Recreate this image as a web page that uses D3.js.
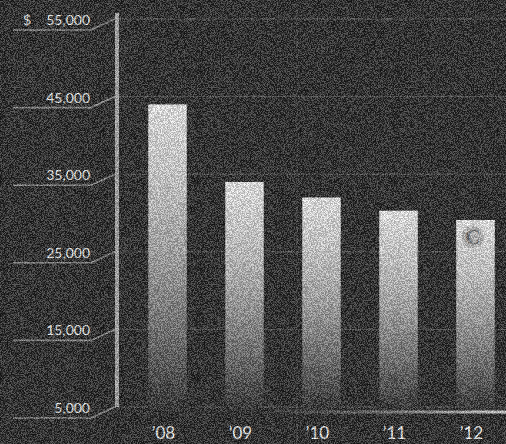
<!DOCTYPE html>
<html><head><meta charset="utf-8">
<script src="https://cdn.jsdelivr.net/npm/d3@7"></script>
<style>html,body{margin:0;padding:0;background:#2e2e2e;overflow:hidden}</style>
</head><body>
<script>
const years = ["’08", "’09", "’10", "’11", "’12"];
const values = [44000, 34000, 32000, 30300, 29100];
const tickValues = [5000, 15000, 25000, 35000, 45000, 55000];
const tickLabels = ["5,000", "15,000", "25,000", "35,000", "45,000", "55,000"];

const W = 506, H = 444;
const svg = d3.select("body").append("svg").attr("width", W).attr("height", H);
const defs = svg.append("defs");

const barG = defs.append("linearGradient").attr("id","barg").attr("x1",0).attr("y1",0).attr("x2",0).attr("y2",1);
[[0,"#ffffff"],[0.3,"#d4d4d4"],[0.5,"#aaaaaa"],[0.75,"#6a6a6a"],[1,"#1e1e1e"]]
  .forEach(s => barG.append("stop").attr("offset",s[0]).attr("stop-color",s[1]));

const glow = defs.append("linearGradient").attr("id","glow").attr("x1",0).attr("y1",0).attr("x2",1).attr("y2",0);
glow.append("stop").attr("offset",0).attr("stop-color","#aaa").attr("stop-opacity",0);
glow.append("stop").attr("offset",0.5).attr("stop-color","#bbb").attr("stop-opacity",0.5);
glow.append("stop").attr("offset",1).attr("stop-color","#e4e4e4").attr("stop-opacity",1);

const noise = defs.append("filter").attr("id","noise").attr("x",0).attr("y",0).attr("width","100%").attr("height","100%")
  .attr("color-interpolation-filters","sRGB");
noise.append("feTurbulence").attr("type","fractalNoise").attr("baseFrequency",1.3).attr("numOctaves",1).attr("seed",5).attr("result","t");
noise.append("feColorMatrix").attr("in","t").attr("type","matrix")
  .attr("values","3.5 0 0 0 -1.3  3.5 0 0 0 -1.3  3.5 0 0 0 -1.3  0 0 0 0 0.3");

svg.append("rect").attr("width",W).attr("height",H).attr("fill","#191919");

const y = d3.scaleLinear().domain([5000, 55000]).range([407, 19]);
const x = d3.scaleBand().domain(years).range([129, 514]).paddingInner(0.5).paddingOuter(0.25);
const axisX = 117;

// faint vertical grid
[53, 297].forEach(vx => svg.append("line").attr("x1",vx).attr("x2",vx).attr("y1",0).attr("y2",H)
  .attr("stroke","#888").attr("stroke-opacity",0.25).attr("stroke-width",1));

// horizontal grid lines
svg.append("g").selectAll("line").data(tickValues).join("line")
  .attr("x1", axisX).attr("x2", W).attr("y1", d => y(d)).attr("y2", d => y(d))
  .attr("stroke","#999").attr("stroke-opacity",0.4).attr("stroke-width",1);

// bars
svg.append("g").selectAll("rect").data(values).join("rect")
  .attr("x", (d,i) => x(years[i])).attr("width", x.bandwidth())
  .attr("y", d => y(d)).attr("height", d => y(5000) + 4 - y(d))
  .attr("fill","url(#barg)");

// logo on last bar
const lx = x(years[4]) + x.bandwidth()/2 - 3, ly = y(values[4]) + 17;
svg.append("circle").attr("cx", lx).attr("cy", ly).attr("r", 11).attr("fill","#8e8e8e").attr("opacity",0.5);
svg.append("text").attr("x", lx).attr("y", ly + 7).attr("text-anchor","middle")
  .attr("font-family","Liberation Serif").attr("font-weight","bold").attr("font-size",21)
  .attr("fill","#6e6e6e").text("C");

// bottom glow line
svg.append("rect").attr("x", 250).attr("y", 410.5).attr("width", W-250).attr("height", 3).attr("fill","url(#glow)");

// tick bracket lines
const tk = svg.append("g");
tk.selectAll("path").data(tickValues).join("path")
  .attr("d", d => { const gy = y(d); return `M13,${gy+11} L91,${gy+11} L${axisX},${gy-1}`; })
  .attr("fill","none").attr("stroke","#a4a4a4").attr("stroke-opacity",0.8).attr("stroke-width",1.6);

// vertical axis
svg.append("path").attr("d", `M${axisX},${y(55000)-6} L${axisX},${y(5000)}`)
  .attr("stroke","#b0b0b0").attr("stroke-width",4).attr("fill","none");

// tick labels
tk.selectAll("text").data(tickValues).join("text")
  .attr("x", 90).attr("y", d => y(d) + 6).attr("text-anchor","end")
  .attr("font-family","Lato").attr("font-weight",400).attr("font-size",14)
  .attr("fill","#ffffff")
  .text((d,i) => tickLabels[i]);
svg.append("text").attr("x", 23).attr("y", y(55000) + 6)
  .attr("font-family","Lato").attr("font-weight",400).attr("font-size",14).attr("fill","#ffffff").text("$");

// x labels
svg.append("g").selectAll("text").data(years).join("text")
  .attr("x", d => x(d) + x.bandwidth()/2 - 4).attr("y", 439).attr("text-anchor","middle")
  .attr("font-family","Lato").attr("font-weight",400).attr("font-size",17)
  .attr("fill","#ffffff").text(d => d);

// noise overlay
svg.append("rect").attr("width",W).attr("height",H).attr("filter","url(#noise)").attr("fill","#000").style("pointer-events","none");
</script>
</body></html>
